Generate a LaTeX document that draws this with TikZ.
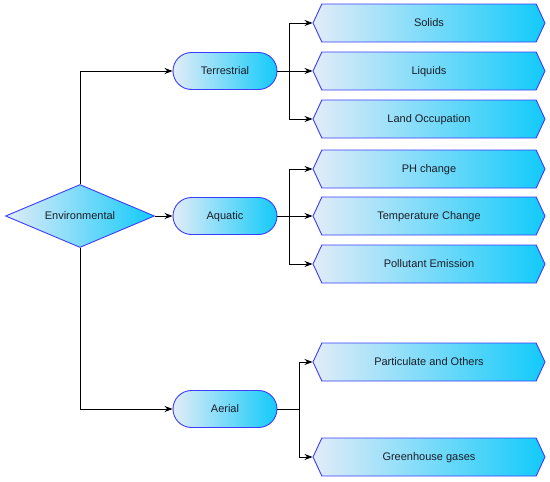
\documentclass[tikz,border=0pt]{standalone}
\usepackage{fontspec}
\setmainfont{Liberation Sans}
\usetikzlibrary{shapes.geometric,shapes.misc,shapes.symbols,arrows.meta}
\definecolor{lightfill}{RGB}{226,236,248}
\definecolor{cyanfill}{RGB}{18,202,250}
\definecolor{edgeblue}{RGB}{60,60,255}
\definecolor{txt}{RGB}{25,30,40}
\tikzset{
  boxbase/.style={draw=edgeblue, line width=0.9pt, left color=lightfill, right color=cyanfill, text=txt, font=\fontsize{11}{13}\selectfont, inner sep=0pt, text height=0.72em, text depth=0pt},
  decision/.style={boxbase, diamond, minimum width=149pt, minimum height=63pt, aspect=2.37},
  category/.style={boxbase, rounded rectangle, minimum width=104pt, minimum height=37pt},
  impact/.style={boxbase, signal, signal to=west and east, signal pointer angle=130, minimum width=232pt, minimum height=38pt},
  conn/.style={draw=black, line width=0.8pt},
  arr/.style={conn, -{Stealth[length=8pt,width=6pt]}}
}
\begin{document}
\begin{tikzpicture}[x=1pt,y=-1pt]
\useasboundingbox (0,0) rectangle (550,482);
\node[decision] (env) at (80,216) {Environmental};
\node[category] (ter) at (225,71) {Terrestrial};
\node[category] (aqu) at (225,216) {Aquatic};
\node[category] (aer) at (225,409) {Aerial};
\node[impact] (sol) at (429,23) {Solids};
\node[impact] (liq) at (429,71) {Liquids};
\node[impact] (land) at (429,119) {Land Occupation};
\node[impact] (ph) at (429,169) {PH change};
\node[impact] (temp) at (429,216) {Temperature Change};
\node[impact] (poll) at (429,264) {Pollutant Emission};
\node[impact] (part) at (429,362) {Particulate and Others};
\node[impact] (ghg) at (429,457) {Greenhouse gases};
\coordinate (tb) at (289,71);
\coordinate (ab) at (289,216);
\coordinate (eb) at (299,409);
\draw[arr] (env.north) |- (ter.west);
\draw[arr] (env.east) -- (aqu.west);
\draw[arr] (env.south) |- (aer.west);
\draw[conn] (ter.east) -- (tb);
\draw[arr] (tb) |- (sol.west);
\draw[arr] (tb) -- (liq.west);
\draw[arr] (tb) |- (land.west);
\draw[conn] (aqu.east) -- (ab);
\draw[arr] (ab) |- (ph.west);
\draw[arr] (ab) -- (temp.west);
\draw[arr] (ab) |- (poll.west);
\draw[conn] (aer.east) -- (eb);
\draw[arr] (eb) |- (part.west);
\draw[arr] (eb) |- (ghg.west);
\end{tikzpicture}
\end{document}
